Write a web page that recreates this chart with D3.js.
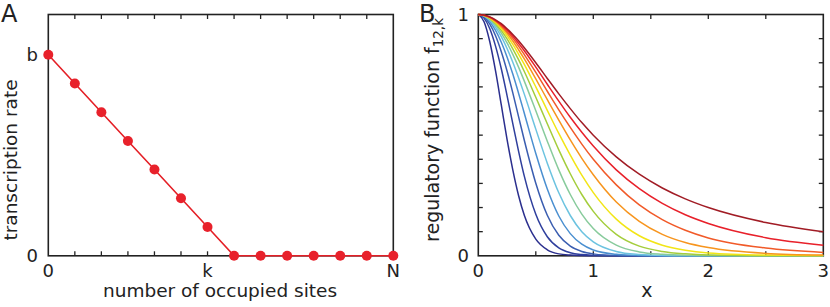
<!DOCTYPE html>
<html><head><meta charset="utf-8">
<script src="https://cdn.jsdelivr.net/npm/d3@7"></script>
<style>body{margin:0;background:#fff}svg{display:block;font-family:"DejaVu Sans",sans-serif}</style>
</head><body><svg id="c" width="830" height="307"></svg>
<script>
// ---------- Panel A data ----------
const occupiedSites = [0,1,2,3,4,5,6,7,8,9,10,11,12,13];
const transcriptionRate = [1,0.857,0.714,0.571,0.429,0.286,0.143,0,0,0,0,0,0,0];
const aXTickValues = [0,6,13];
const aXTickLabels = ["0","k","N"];
const aYTickValues = [0,1];
const aYTickLabels = ["0","b"];

// ---------- Panel B data ----------
const xGrid = [0,0.05,0.1,0.15,0.2,0.25,0.3,0.35,0.4,0.5,0.6,0.7,0.8,0.9,1.0,1.2,1.4,1.6,1.8,2.0,2.5,3.0];
const fK1  = [1,.970,.887,.766,.625,.483,.356,.250,.168,.069,.025,.008,.003,.001,0,0,0,0,0,0,0,0];
const fK2  = [1,.985,.941,.869,.775,.664,.548,.434,.330,.172,.079,.033,.013,.005,.002,0,0,0,0,0,0,0];
const fK3  = [1,.990,.960,.912,.846,.766,.675,.577,.479,.301,.168,.085,.040,.018,.008,.001,0,0,0,0,0,0];
const fK4  = [1,.993,.970,.934,.885,.824,.753,.674,.591,.424,.277,.165,.092,.048,.024,.006,.001,0,0,0,0,0];
const fK5  = [1,.994,.976,.947,.908,.859,.802,.738,.670,.525,.384,.261,.167,.100,.058,.018,.005,.001,0,0,0,0];
const fK6  = [1,.995,.980,.956,.923,.882,.835,.782,.724,.601,.475,.356,.254,.173,.113,.044,.016,.006,.002,.001,0,0];
const fK7  = [1,.996,.983,.962,.934,.899,.858,.813,.764,.657,.547,.439,.340,.254,.184,.089,.040,.018,.008,.003,0,0];
const fK8  = [1,.996,.985,.967,.942,.912,.876,.836,.793,.700,.603,.507,.417,.334,.262,.152,.083,.044,.023,.012,.003,.001];
const fK9  = [1,.997,.987,.971,.949,.922,.890,.854,.816,.733,.647,.562,.480,.404,.336,.223,.143,.089,.055,.034,.010,.003];
const fK10 = [1,.997,.988,.974,.954,.929,.901,.869,.834,.760,.682,.605,.532,.463,.400,.294,.211,.150,.106,.074,.032,.014];
const fK11 = [1,.997,.989,.976,.958,.936,.910,.881,.850,.782,.711,.641,.574,.512,.455,.356,.278,.217,.170,.134,.075,.044];
const fK12 = [1,.998,.990,.978,.962,.941,.917,.891,.862,.800,.735,.671,.610,.552,.500,.410,.338,.281,.236,.200,.138,.100];
const curveColors = ["#2b2f8e","#2f3f9d","#3a5db0","#4a8fd0","#6cc3e0","#88cb9c","#a4cd3c","#f2e516","#f7951e","#f15a29","#e8202a","#a11c25"];
const bXTickValues = [0,0.5,1,1.5,2,2.5,3];
const bXTickLabels = [0,1,2,3];
const bYTickValues = [0,0.1,0.2,0.3,0.4,0.5,0.6,0.7,0.8,0.9,1];
const bYTickLabels = [0,1];

const series = [fK1,fK2,fK3,fK4,fK5,fK6,fK7,fK8,fK9,fK10,fK11,fK12];

const svg = d3.select("#c");
const plotTop = 14.5, plotBottom = 255.8;
const frameColor = "#222";
const fs = 18;

function frame(g, x0, x1){
  g.append("rect").attr("x",x0).attr("y",plotTop).attr("width",x1-x0).attr("height",plotBottom-plotTop)
   .attr("fill","none").attr("stroke",frameColor).attr("stroke-width",1.6);
}

// ---------- Panel A ----------
const ax = d3.scaleLinear().domain([0,13]).range([48.3,393.3]);
const ay = d3.scaleLinear().domain([0,1.2]).range([plotBottom,plotTop]);
const gA = svg.append("g");
frame(gA, ax.range()[0], ax.range()[1]);
gA.append("g").selectAll("line").data(occupiedSites.slice(1,-1)).join("line")
  .attr("x1",d=>ax(d)).attr("x2",d=>ax(d)).attr("y1",plotBottom).attr("y2",plotBottom-4.5)
  .attr("stroke",frameColor).attr("stroke-width",1.3);
gA.append("g").selectAll("line").data(occupiedSites.slice(1,-1)).join("line")
  .attr("x1",d=>ax(d)).attr("x2",d=>ax(d)).attr("y1",plotTop).attr("y2",plotTop+4.5)
  .attr("stroke",frameColor).attr("stroke-width",1.3);
gA.append("g").selectAll("text").data(aXTickValues).join("text")
  .attr("x",d=>ax(d)).attr("y",277).attr("text-anchor","middle").attr("font-size",fs).attr("fill","#222")
  .text((d,i)=>aXTickLabels[i]);
gA.append("g").selectAll("text").data(aYTickValues).join("text")
  .attr("x",38).attr("y",d=>ay(d)+6).attr("text-anchor","end").attr("font-size",fs).attr("fill","#222")
  .text((d,i)=>aYTickLabels[i]);
const lineA = d3.line().x((d,i)=>ax(occupiedSites[i])).y(d=>ay(d));
gA.append("path").datum(transcriptionRate).attr("d",lineA).attr("fill","none")
  .attr("stroke","#e41f26").attr("stroke-width",1.6);
gA.append("g").selectAll("circle").data(transcriptionRate).join("circle")
  .attr("cx",(d,i)=>ax(occupiedSites[i])).attr("cy",d=>ay(d)).attr("r",5).attr("fill","#e8212b");
gA.append("text").attr("x",220).attr("y",297).attr("text-anchor","middle").attr("font-size",18.5).attr("fill","#222")
  .text("number of occupied sites");
gA.append("text").attr("transform","translate(17,160) rotate(-90)").attr("text-anchor","middle")
  .attr("font-size",18.5).attr("fill","#222").text("transcription rate");
svg.append("text").attr("x",1).attr("y",21.5).attr("font-size",24).attr("fill","#222").text("A");

// ---------- Panel B ----------
const bx = d3.scaleLinear().domain([0,3]).range([478.3,823.3]);
const by = d3.scaleLinear().domain([0,1]).range([plotBottom,plotTop]);
const gB = svg.append("g");
const tickLen = 4.5;
gB.append("g").selectAll("line").data(bXTickValues.slice(1,-1)).join("line")
  .attr("x1",d=>bx(d)).attr("x2",d=>bx(d)).attr("y1",plotBottom).attr("y2",plotBottom-tickLen)
  .attr("stroke",frameColor).attr("stroke-width",1.3);
gB.append("g").selectAll("line").data(bXTickValues.slice(1,-1)).join("line")
  .attr("x1",d=>bx(d)).attr("x2",d=>bx(d)).attr("y1",plotTop).attr("y2",plotTop+tickLen)
  .attr("stroke",frameColor).attr("stroke-width",1.3);
gB.append("g").selectAll("line").data(bYTickValues.slice(1,-1)).join("line")
  .attr("x1",bx(0)).attr("x2",bx(0)+tickLen).attr("y1",d=>by(d)).attr("y2",d=>by(d))
  .attr("stroke",frameColor).attr("stroke-width",1.3);
gB.append("g").selectAll("line").data(bYTickValues.slice(1,-1)).join("line")
  .attr("x1",bx(3)).attr("x2",bx(3)-tickLen).attr("y1",d=>by(d)).attr("y2",d=>by(d))
  .attr("stroke",frameColor).attr("stroke-width",1.3);
frame(gB, bx.range()[0], bx.range()[1]);
const lineB = d3.line().x((d,i)=>bx(xGrid[i])).y(d=>by(d)).curve(d3.curveMonotoneX);
gB.append("g").selectAll("path").data(series).join("path")
  .attr("d",lineB).attr("fill","none").attr("stroke",(d,i)=>curveColors[i]).attr("stroke-width",1.5);
gB.append("g").selectAll("text").data(bXTickLabels).join("text")
  .attr("x",d=>bx(d)).attr("y",277).attr("text-anchor","middle").attr("font-size",fs).attr("fill","#222")
  .text(d=>d);
gB.append("g").selectAll("text").data(bYTickLabels).join("text")
  .attr("x",469).attr("y",d=>by(d)+6.5).attr("text-anchor","end").attr("font-size",fs).attr("fill","#222")
  .text(d=>d);
gB.append("text").attr("x",bx(1.5)-4).attr("y",297).attr("text-anchor","middle").attr("font-size",19).attr("fill","#222").text("x");
const yl = gB.append("text").attr("transform","translate(439,130) rotate(-90)").attr("text-anchor","middle")
  .attr("font-size",19).attr("fill","#222");
yl.append("tspan").text("regulatory function f");
yl.append("tspan").attr("font-size",13.5).attr("dy",4).text("12,k");
svg.append("text").attr("x",419).attr("y",21.5).attr("font-size",24).attr("fill","#222").text("B");
</script></body></html>
